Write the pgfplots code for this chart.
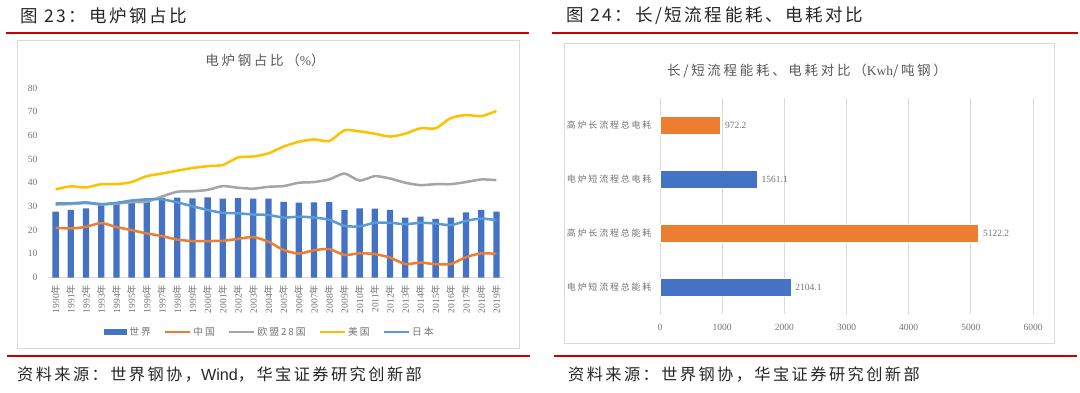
\documentclass[border=0pt]{standalone}
\usepackage{fontspec}
\usepackage{pgfplots}
\pgfplotsset{compat=1.18}
\setmainfont{Liberation Serif}
\newfontfamily\cjk{Noto Sans CJK SC}
\newfontfamily\cjks[LetterSpace=20]{Noto Sans CJK SC}
\newfontfamily\cjkh[LetterSpace=15]{Noto Sans CJK SC}
\newcommand\N{{\cjk 年}}
\definecolor{cBlue}{HTML}{4472C4}
\definecolor{cOrange}{HTML}{ED7D31}
\definecolor{cGray}{HTML}{A5A5A5}
\definecolor{cYellow}{HTML}{FFC000}
\definecolor{cLBlue}{HTML}{5B9BD5}
\definecolor{cRed}{HTML}{CC0000}
\definecolor{cBox}{HTML}{D9D9D9}
\definecolor{cText}{HTML}{757575}
\definecolor{cTitle}{HTML}{595959}

\pgfplotstableread{
year world china eu us japan
1990 27.8 21.0 30.8 37.2 31.3
1991 28.5 20.7 31.0 38.5 31.3
1992 29.2 21.4 31.4 38.0 31.7
1993 30.9 23.0 30.8 39.4 31.0
1994 31.7 21.3 31.2 39.4 31.5
1995 32.4 20.0 31.8 40.3 32.5
1996 33.1 18.6 32.0 42.8 33.0
1997 33.7 17.5 34.2 43.9 33.0
1998 33.7 16.0 36.2 45.1 31.7
1999 33.4 15.4 36.4 46.2 30.1
2000 33.8 15.4 37.0 47.0 28.5
2001 33.3 15.5 38.6 47.5 27.3
2002 33.5 16.3 37.9 50.7 27.1
2003 33.3 17.1 37.5 51.1 26.6
2004 33.3 15.1 38.3 52.4 26.4
2005 31.9 11.6 38.6 55.3 25.3
2006 31.6 10.1 40.0 57.3 25.7
2007 31.7 11.5 40.3 58.3 25.3
2008 31.8 12.0 41.4 57.6 24.4
2009 28.5 9.5 43.9 62.1 21.8
2010 29.2 10.2 40.9 61.7 21.6
2011 29.1 9.9 42.8 60.7 23.1
2012 28.6 8.4 41.8 59.5 23.1
2013 25.3 5.7 40.0 60.7 22.5
2014 25.7 6.3 39.0 63.0 23.1
2015 24.8 5.6 39.4 63.0 22.8
2016 25.3 5.7 39.4 67.3 22.1
2017 27.5 8.6 40.3 68.6 23.9
2018 28.5 10.2 41.4 68.1 24.9
2019 27.8 10.0 41.1 70.3 24.2
}\eafdata

\begin{document}
\begin{tikzpicture}[x=1pt,y=1pt]
\path[use as bounding box] (0,0) rectangle (1080,392);
\fill[white] (0,0) rectangle (1080,392);

% headers
\node[anchor=west, inner sep=0pt, text=black!85] at (20,376.4) {\fontsize{17.5}{17.5}\cjkh 图 23：电炉钢占比};
\node[anchor=west, inner sep=0pt, text=black!85] at (566,376.4) {\fontsize{17.5}{17.5}\cjkh 图 24：长/短流程能耗、电耗对比};
\draw[cRed, line width=2pt] (6,359) -- (529,359);
\draw[cRed, line width=2pt] (552,359) -- (1078,359);
\draw[cRed, line width=2pt] (7,36.5) -- (530,36.5);
\draw[cRed, line width=2pt] (554,36.5) -- (1077,36.5);
\node[anchor=west, inner sep=0pt, text=black!85] at (17,18) {\fontsize{16.2}{16}\cjkh 资料来源：世界钢协，{\fontspec{Liberation Sans}Wind}，华宝证券研究创新部};
\node[anchor=west, inner sep=0pt, text=black!85] at (568,18) {\fontsize{16.2}{16}\cjkh 资料来源：世界钢协，华宝证券研究创新部};

% boxes
\draw[cBox, line width=1pt] (17,44) rectangle (519,351);
\draw[cBox, line width=1pt] (564,49) rectangle (1054,348);

% left chart
\begin{axis}[at={(48pt,114.5pt)}, anchor=south west, scale only axis,
  width=456pt, height=189.5pt,
  xmin=1989.5, xmax=2019.5, ymin=0, ymax=80,
  ytick={0,10,...,80}, xtick={1990,...,2019},
  xticklabels={1990\N,1991\N,1992\N,1993\N,1994\N,1995\N,1996\N,1997\N,1998\N,1999\N,2000\N,2001\N,2002\N,2003\N,2004\N,2005\N,2006\N,2007\N,2008\N,2009\N,2010\N,2011\N,2012\N,2013\N,2014\N,2015\N,2016\N,2017\N,2018\N,2019\N},
  axis x line*=bottom, axis y line*=left, axis line style={-},
  y axis line style={draw=none}, x axis line style={draw=cBox, line width=1pt},
  major tick length=0pt,
  tick label style={color=cText, font=\fontsize{9.5}{10}\selectfont},
  yticklabel style={xshift=-7pt},
  xticklabel style={rotate=90, anchor=east, xshift=-3.5pt},
  /pgf/number format/assume math mode=true,
  /pgf/number format/1000 sep={},
  legend columns=5,
  legend style={at={(0.487,-0.288)}, anchor=center, draw=none, fill=none,
    font=\fontsize{9.8}{10}\selectfont\cjks, text=cText,
    /tikz/every even column/.append style={column sep=11pt},
    nodes={inner sep=2pt}},
  legend image code/.code={\draw[#1] (0pt,0pt) -- (25pt,0pt);},
  line join=round
]
\addplot[ybar, bar width=6.3pt, fill=cBlue, draw=none,
  legend image code/.code={\fill[cBlue] (0pt,-3pt) rectangle (23pt,3pt);}]
  table[x=year,y=world] {\eafdata};
\addplot[cOrange, line width=2.5pt, smooth, tension=0.4] table[x=year,y=china] {\eafdata};
\addplot[cGray, line width=2.5pt, smooth, tension=0.4] table[x=year,y=eu] {\eafdata};
\addplot[cYellow, line width=2.5pt, smooth, tension=0.4] table[x=year,y=us] {\eafdata};
\addplot[cLBlue, line width=2.5pt, smooth, tension=0.4] table[x=year,y=japan] {\eafdata};
\legend{世界,中国,欧盟28国,美国,日本}
\end{axis}
\node[text=cTitle, inner sep=0pt] at (265,332) {\fontsize{13.5}{14}\cjks 电炉钢占比（{\rmfamily\%}）};

% right chart
\begin{axis}[at={(660pt,77.7pt)}, anchor=south west, scale only axis,
  width=373pt, height=216pt,
  xbar, xmin=0, xmax=6000, ymin=-0.5, ymax=3.5,
  xtick={0,1000,...,6000}, ytick={0,1,2,3},
  yticklabels={电炉短流程总能耗,高炉长流程总能耗,电炉短流程总电耗,高炉长流程总电耗},
  bar width=18.3pt,
  xmajorgrids, grid style={cBox, line width=1pt},
  axis line style={draw=none}, major tick length=0pt,
  tick label style={color=cText},
  xticklabel style={font=\fontsize{9.5}{10}\selectfont, yshift=-6pt},
  yticklabel style={font=\fontsize{9}{10}\selectfont\cjks, xshift=-5pt},
  /pgf/number format/assume math mode=true,
  /pgf/number format/1000 sep={},
  nodes near coords={\pgfmathprintnumber[fixed,precision=1,zerofill,1000 sep={}]{\pgfplotspointmeta}},
  nodes near coords style={font=\fontsize{9.5}{10}\selectfont, color=cText, anchor=west, xshift=1pt},
  point meta=x
]
\addplot[fill=cBlue, draw=white, line width=0.5pt, bar shift=0pt] coordinates {(2104.1,0) (1561.1,2)};
\addplot[fill=cOrange, draw=white, line width=0.5pt, bar shift=0pt] coordinates {(5122.2,1) (972.2,3)};
\end{axis}
\node[text=cTitle, inner sep=0pt] at (807,321) {\fontsize{13.5}{14}\cjks 长/短流程能耗、电耗对比（{\rmfamily Kwh}/吨钢）};
\end{tikzpicture}
\end{document}
